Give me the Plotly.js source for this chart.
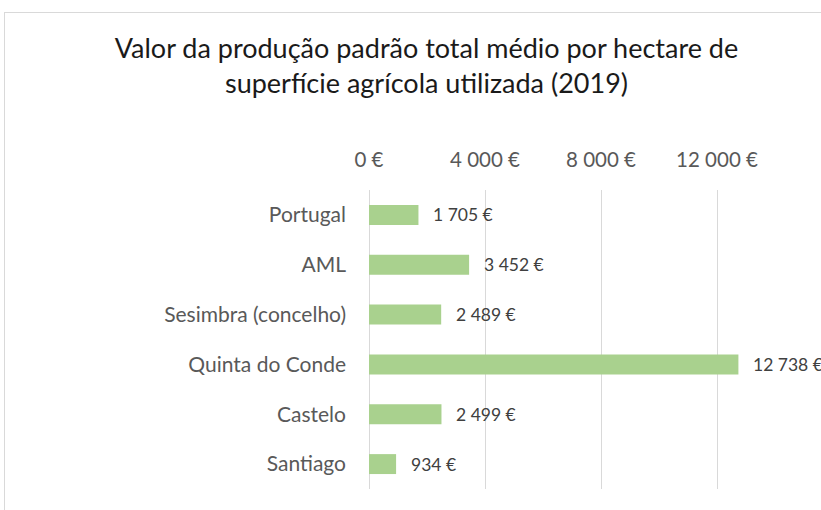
<!DOCTYPE html>
<html>
<head>
<meta charset="utf-8">
<script src="https://cdn.plot.ly/plotly-3.0.1.min.js"></script>
<style>
html,body{margin:0;padding:0;overflow:hidden;background:#fff;}
#frame{position:absolute;left:4px;top:12px;width:900px;height:600px;border-left:1px solid #d9d9d9;border-top:1px solid #d9d9d9;}
#chart{position:absolute;left:0;top:0;width:821px;height:510px;}
</style>
</head>
<body>
<div id="frame"></div>
<div id="chart"></div>
<script>
const categories = ["Portugal", "AML", "Sesimbra (concelho)", "Quinta do Conde", "Castelo", "Santiago"];
const values = [1705, 3452, 2489, 12738, 2499, 934];
const tickValues = [0, 4000, 8000, 12000];
const tickLabels = ["0 €", "4 000 €", "8 000 €", "12 000 €"];
const titleText = "Valor da produção padrão total médio por hectare de<br>superfície agrícola utilizada (2019)";

function fmt(v){
  return String(v).replace(/\B(?=(\d{3})+(?!\d))/g, " ") + " €";
}

const font = "Lato, 'Open Sans', sans-serif";

const trace = {
  type: "bar",
  orientation: "h",
  y: categories,
  x: values,
  marker: {color: "#A9D18E"},
  width: 0.4,
  hoverinfo: "none"
};

const annotations = values.map((v, i) => ({
  x: v, y: categories[i], xref: "x", yref: "y",
  text: fmt(v), showarrow: false, xanchor: "left", xshift: 13,
  font: {family: font, size: 17.5, color: "#404040"}
}));

const layout = {
  width: 821, height: 510,
  margin: {l: 369, r: 0, t: 190, b: 21},
  paper_bgcolor: "rgba(0,0,0,0)",
  plot_bgcolor: "rgba(0,0,0,0)",
  showlegend: false,
  title: {
    text: titleText,
    x: 426.5/821, xanchor: "center", xref: "container",
    y: 1 - 58/510, yanchor: "top", yref: "container",
    font: {family: font, size: 27, color: "#1a1a1a"}
  },
  xaxis: {
    side: "top",
    range: [0, 15586],
    tickvals: tickValues,
    ticktext: tickLabels,
    showgrid: true, gridcolor: "#d9d9d9", gridwidth: 1,
    zeroline: true, zerolinecolor: "#d9d9d9", zerolinewidth: 1,
    showline: false, ticks: "",
    ticklabelstandoff: 18,
    tickfont: {family: font, size: 20.5, color: "#595959"},
    fixedrange: true
  },
  yaxis: {
    autorange: "reversed",
    showgrid: false, zeroline: false, showline: false, ticks: "",
    ticklabelstandoff: 22,
    tickfont: {family: font, size: 21, color: "#595959"},
    fixedrange: true
  },
  annotations: annotations
};

Plotly.newPlot("chart", [trace], layout, {displayModeBar: false, staticPlot: true});
</script>
</body>
</html>
